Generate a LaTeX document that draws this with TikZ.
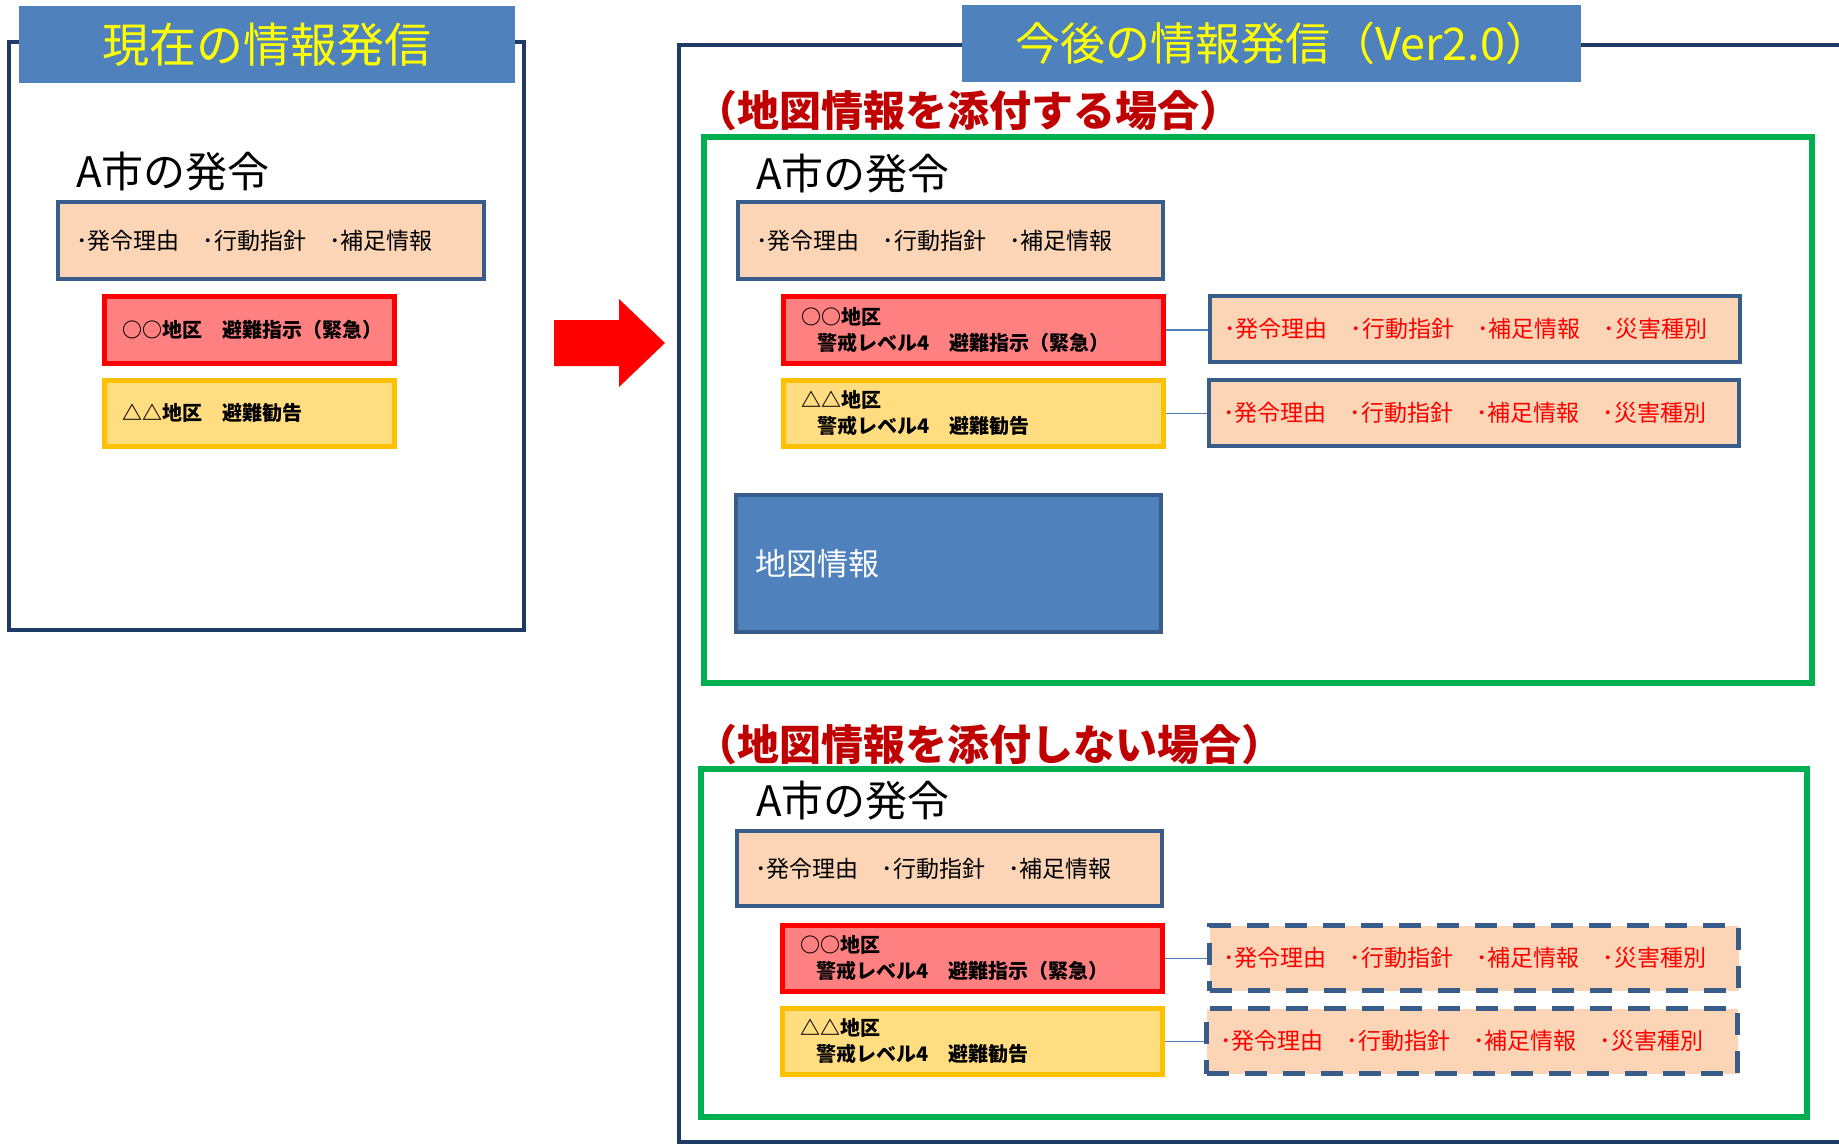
\documentclass[tikz,border=0pt]{standalone}
\usepackage{fontspec}
\setmainfont{Noto Sans CJK JP}
\definecolor{navy}{HTML}{1F3A64}
\definecolor{tblue}{HTML}{4F81BD}
\definecolor{peachc}{HTML}{FBD5B5}
\definecolor{bblue}{HTML}{385D8A}
\definecolor{redfill}{HTML}{FF8080}
\definecolor{yelfill}{HTML}{FFDD80}
\definecolor{yelline}{HTML}{FFC000}
\definecolor{gline}{HTML}{00B050}
\definecolor{darkred}{HTML}{C00000}
\definecolor{titley}{HTML}{FFFF00}
\tikzset{
  frame/.style={draw=navy, line width=2pt},
  gframe/.style={draw=gline, line width=2.6pt},
  titlebox/.style={fill=tblue, text=titley, anchor=north west, inner sep=0pt},
  pbox/.style={fill=peachc, draw=bblue, line width=2.2pt, anchor=north west, inner sep=0pt},
  dbox/.style={fill=peachc, draw=bblue, line width=2.6pt, dash pattern=on 11pt off 8pt, anchor=north west, inner sep=0pt},
  rbox/.style={fill=redfill, draw=red, line width=2.4pt, anchor=north west, inner sep=0pt},
  ybox/.style={fill=yelfill, draw=yelline, line width=2.4pt, anchor=north west, inner sep=0pt},
  mbox/.style={fill=tblue, draw=bblue, line width=2.2pt, anchor=north west, inner sep=0pt},
  ptext/.style={anchor=west, inner sep=0pt, font=\fontsize{11.5pt}{14pt}\selectfont},
  qtext/.style={anchor=west, inner sep=0pt, text=red, font=\fontsize{11.5pt}{14pt}\selectfont},
  btext/.style={anchor=west, inner sep=0pt, align=left, font=\fontsize{10pt}{13pt}\selectfont\bfseries},
  ahead/.style={anchor=west, inner sep=0pt, font=\fontsize{21pt}{24pt}\selectfont},
  hd/.style={anchor=west, inner sep=0pt, text=darkred, font=\fontsize{21pt}{24pt}\selectfont\bfseries},
  conn/.style={draw=tblue, line width=0.9pt}
}
\begin{document}
\begin{tikzpicture}[x=0.5pt,y=-0.5pt]
\clip (0,0) rectangle (1839,1145);
\fill[white] (0,0) rectangle (1839,1145);

% ---------- left panel ----------
\draw[frame] (9,42) rectangle (524,630);
\node[titlebox, minimum width=248pt, minimum height=38.5pt, font=\fontsize{23.5pt}{26pt}\selectfont] (ltitle) at (19,6) {現在の情報発信};
\node[ahead] (lhead) at (76,172) {A市の発令};
\node[pbox, minimum width=213pt, minimum height=38.5pt] (lp) at (56,200) {};
\node[ptext] (lpt) at ([xshift=10pt]lp.west) {･発令理由　･行動指針　･補足情報};
\node[rbox, minimum width=145pt, minimum height=33.5pt] (lr) at (102,294) {};
\node[btext] (lrt) at ([xshift=10pt]lr.west) {○○地区　避難指示（緊急）};
\node[ybox, minimum width=145pt, minimum height=33pt] (ly) at (102,378) {};
\node[btext] (lyt) at ([xshift=10pt]ly.west) {△△地区　避難勧告};

% ---------- arrow ----------
\fill[red] (554,320) -- (619,320) -- (619,299) -- (665,343) -- (619,387) -- (619,366) -- (554,366) -- cycle;

% ---------- right panel ----------
\draw[frame] (679,45) rectangle (1870,1142);
\node[titlebox, minimum width=309.5pt, minimum height=38.5pt, font=\fontsize{22.5pt}{26pt}\selectfont] (rtitle) at (962,5) {\hspace*{11pt}今後の情報発信（Ver2.0）};

\node[hd] (h1) at (695,111) {（地図情報を添付する場合）};
\draw[gframe] (704,137) rectangle (1812,683);
\node[ahead] (a1) at (756,174) {A市の発令};
\node[pbox, minimum width=212.5pt, minimum height=38.5pt] (p2) at (736,200) {};
\node[ptext] (p2t) at ([xshift=10pt]p2.west) {･発令理由　･行動指針　･補足情報};
\node[rbox, minimum width=190pt, minimum height=33.5pt] (r2) at (781,294) {};
\node[btext] (r2t) at ([xshift=10pt]r2.west) {○○地区\\\hspace*{8pt}警戒レベル4　避難指示（緊急）};
\node[pbox, minimum width=265pt, minimum height=33pt] (q2) at (1208,294) {};
\node[qtext] (q2t) at ([xshift=8pt]q2.west) {･発令理由　･行動指針　･補足情報　･災害種別};
\node[ybox, minimum width=190pt, minimum height=33pt] (y2) at (781,378) {};
\node[btext] (y2t) at ([xshift=10pt]y2.west) {△△地区\\\hspace*{8pt}警戒レベル4　避難勧告};
\node[pbox, minimum width=265pt, minimum height=33pt] (q3) at (1207,378) {};
\node[qtext] (q3t) at ([xshift=8pt]q3.west) {･発令理由　･行動指針　･補足情報　･災害種別};
\node[mbox, minimum width=212.5pt, minimum height=68.5pt] (map) at (734,493) {};
\node[anchor=west, inner sep=0pt, text=white, font=\fontsize{15.5pt}{18pt}\selectfont] (mapt) at ([xshift=10.5pt]map.west) {地図情報};
\draw[conn] (r2.east) -- (r2.east -| q2.west);
\draw[conn] (y2.east) -- (y2.east -| q3.west);

\node[hd] (h2) at (695,745) {（地図情報を添付しない場合）};
\draw[gframe] (701,769) rectangle (1807,1117);
\node[ahead] (a2) at (756,801) {A市の発令};
\node[pbox, minimum width=212.5pt, minimum height=37.5pt] (p3) at (735,829) {};
\node[ptext] (p3t) at ([xshift=10pt]p3.west) {･発令理由　･行動指針　･補足情報};
\node[rbox, minimum width=190pt, minimum height=33pt] (r3) at (780,923) {};
\node[btext] (r3t) at ([xshift=10pt]r3.west) {○○地区\\\hspace*{8pt}警戒レベル4　避難指示（緊急）};
\node[dbox, minimum width=264.5pt, minimum height=32.5pt] (q4) at (1207,923) {};
\node[qtext] (q4t) at ([xshift=8pt]q4.west) {･発令理由　･行動指針　･補足情報　･災害種別};
\node[ybox, minimum width=190pt, minimum height=33pt] (y3) at (780,1006) {};
\node[btext] (y3t) at ([xshift=10pt]y3.west) {△△地区\\\hspace*{8pt}警戒レベル4　避難勧告};
\node[dbox, minimum width=265.5pt, minimum height=32.5pt] (q5) at (1204,1006) {};
\node[qtext] (q5t) at ([xshift=8pt]q5.west) {･発令理由　･行動指針　･補足情報　･災害種別};
\draw[conn] (r3.east) -- (r3.east -| q4.west);
\draw[conn] (y3.east) -- (y3.east -| q5.west);
\end{tikzpicture}
\end{document}
